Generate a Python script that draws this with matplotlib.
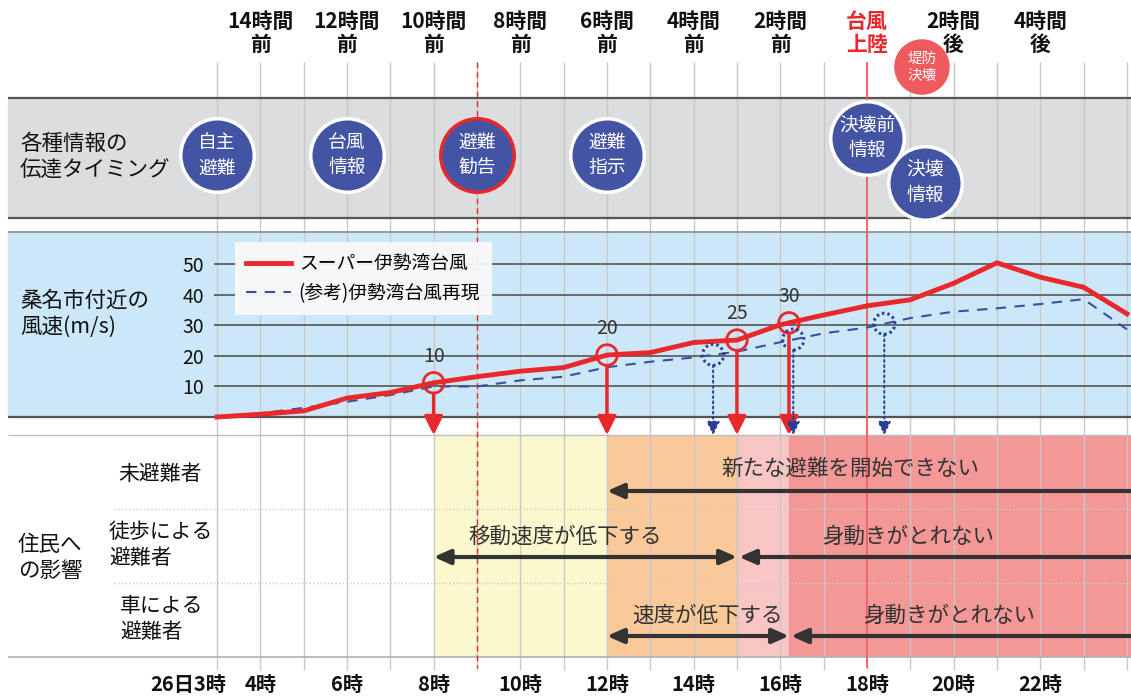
import numpy as np
import matplotlib
matplotlib.use("Agg")
import matplotlib.pyplot as plt

plt.rcParams['font.family'] = ['Noto Sans CJK JP', 'DejaVu Sans']

# wind speed near Kuwana (m/s), hourly from 3:00 to 24:00
hours = list(range(3, 25))
wind_super = [0, 0.9, 2, 6.2, 8, 11.2, 13.2, 15, 16.2, 20.3, 21.1, 24.4, 25.2, 30.2,
              33.4, 36.4, 38.4, 43.8, 50.5, 45.8, 42.5, 33.8]
wind_ref = [0, 1.2, 3, 5, 7.2, 10, 10, 12, 13.2, 16.3, 18.1, 19.5, 21.4, 24.5,
            27.4, 29.3, 32.4, 34.5, 35.6, 37, 38.6, 28.7]
series_names = ['スーパー伊勢湾台風', '(参考)伊勢湾台風再現']

# threshold crossings (hours) marked by circles
super_marks = [8, 12, 15, 16.2]
super_mark_labels = ['10', '20', '25', '30']
ref_marks = [14.45, 16.3, 18.4]

# information timing
info_labels = ['自主\n避難', '台風\n情報', '避難\n勧告', '避難\n指示', '決壊前\n情報', '決壊\n情報']
info_hours = [3, 6, 9, 12, 18, 19.35]
breach_label = '堤防\n決壊'
breach_hour = 19.27

top_labels = ['14時間\n前', '12時間\n前', '10時間\n前', '8時間\n前', '6時間\n前',
              '4時間\n前', '2時間\n前', '台風\n上陸', '2時間\n後', '4時間\n後']
top_hours = [4, 6, 8, 10, 12, 14, 16, 18, 20, 22]
bottom_hours = [4, 6, 8, 10, 12, 14, 16, 18, 20, 22]
advisory_hour = 9
landfall_hour = 18

# impact zones
zone_edges = [8, 12, 15, 16.2]
zone_colors = ['#faf8cc', '#f9c99a', '#f9c6c6', '#f39797']

row_labels = ['未避難者', '徒歩による\n避難者', '車による\n避難者']

# ---- layout helpers (pixels of the 1131x698 picture) ----
W, H = 1131, 698


def h_at(px):
    return 3 + (px - 217) / 43.33


fig = plt.figure(figsize=(W / 100, H / 100), dpi=100)
ax = fig.add_axes([0, 0, 1, 1])
ax.set_xlim(h_at(0), h_at(W))
ax.set_ylim(H, 0)
ax.axis('off')
x_left = h_at(8)
x_right = h_at(W) + 0.5
zone_edges_full = zone_edges + [x_right]

# panel backgrounds
ax.fill_between([x_left, x_right], 98, 218, color='#dcdddf', zorder=0)
ax.fill_between([x_left, x_right], 232, 417, color='#cce8f8', zorder=0)
for i in range(len(zone_colors)):
    ax.fill_between([zone_edges_full[i], zone_edges_full[i + 1]], 435, 657,
                    color=zone_colors[i], zorder=0, lw=0)

# vertical hour grid
ax.vlines(hours, 62, 670, color='#c8c8c8', lw=1, zorder=1)

# panel borders
ax.hlines([98, 218], x_left, x_right, color='#555555', lw=1.6, zorder=2)
ax.hlines(232, x_left, x_right, color='#8a8a8a', lw=1.2, zorder=2)
ax.hlines(417, x_left, x_right, color='#555555', lw=1.6, zorder=2)
ax.hlines(435, x_left, x_right, color='#bdbdbd', lw=1, zorder=2)
ax.hlines(657, x_left, x_right, color='#b0b0b0', lw=1.2, zorder=2)
ax.hlines([509, 583], h_at(114), x_right, color='#cccccc', lw=1, linestyles=':', zorder=2)

# advisory / landfall lines
ax.vlines(advisory_hour, 62, 668, color='#e8282b', lw=1, linestyles=(0, (4, 3)), zorder=3)
ax.vlines(landfall_hour, 62, 668, color='#f06060', lw=1.3, zorder=3)

# top labels
for h, lab in zip(top_hours, top_labels):
    col = '#e8282b' if '上陸' in lab else '#111111'
    ax.text(h, 33, lab, ha='center', va='center', fontsize=15, fontweight='bold',
            color=col, linespacing=1.1)

# breach circle
ax.scatter([breach_hour], [67], s=1600, c='#ef5a5f', edgecolors='none', zorder=6)
ax.text(breach_hour, 67, breach_label, ha='center', va='center', fontsize=10.5,
        color='white', linespacing=1.25, zorder=7)

# info timing circles
info_y = [155, 155, 155, 155, 138, 183]
for h, y, lab in zip(info_hours, info_y, info_labels):
    edge = '#e8282b' if lab == '避難\n勧告' else 'white'
    ax.scatter([h], [y], s=2800, c='#4454a4', edgecolors=edge, linewidths=2.5, zorder=6)
    ax.text(h, y, lab, ha='center', va='center', fontsize=13.5, color='white',
            linespacing=1.3, zorder=7)

# left labels
ax.text(h_at(20), 157, '各種情報の\n伝達タイミング', ha='left', va='center', fontsize=15.5,
        color='#111111', linespacing=1.25)
ax.text(h_at(20), 314, '桑名市付近の\n風速(m/s)', ha='left', va='center', fontsize=15.5,
        color='#111111', linespacing=1.25)
ax.text(h_at(18), 558, '住民へ\nの影響', ha='left', va='center', fontsize=15.5,
        color='#111111', linespacing=1.25)
ax.text(h_at(160), 474, row_labels[0], ha='center', va='center', fontsize=15, color='#111111')
ax.text(h_at(109), 545, row_labels[1], ha='left', va='center', fontsize=15, color='#111111',
        linespacing=1.25)
ax.text(h_at(120), 619, row_labels[2], ha='left', va='center', fontsize=15, color='#111111',
        linespacing=1.25)

# bottom hour labels
ax.text(3.2, 684, '26日3時', ha='right', va='center', fontsize=14.5, fontweight='bold',
        color='#111111')
for h in bottom_hours:
    ax.text(h, 684, f'{h}時', ha='center', va='center', fontsize=14.5, fontweight='bold',
            color='#111111')

# impact arrows
arrow_kw = dict(color='#333333', lw=3, mutation_scale=11, shrinkA=0, shrinkB=0)
impacts = [
    (491, zone_edges[1], x_right, '-|>', '新たな避難を開始できない', 17.61, 469),
    (557, zone_edges[0], zone_edges[2], '<|-|>', '移動速度が低下する', 11.03, 537),
    (557, zone_edges[2] + 0.05, x_right, '-|>', '身動きがとれない', 18.95, 537),
    (636, zone_edges[1], zone_edges[3], '<|-|>', '速度が低下する', 14.33, 616),
    (636, zone_edges[3] + 0.05, x_right, '-|>', '身動きがとれない', 19.9, 616),
]
for y, x0, x1, style, txt, tx, ty in impacts:
    ax.annotate('', xy=(x0, y), xytext=(x1, y),
                arrowprops=dict(arrowstyle=style + ',head_length=0.9,head_width=0.4', **arrow_kw),
                zorder=4)
    ax.text(tx, ty, txt, ha='center', va='center', fontsize=15.5, color='#333333', zorder=4)

# ---- wind speed chart ----
wmax = 60.6
axw = fig.add_axes([214 / W, (H - 417) / H, (W - 214) / W, (417 - 232) / H])
axw.set_xlim(h_at(214), h_at(W))
axw.set_ylim(0, wmax)
axw.patch.set_alpha(0)
for s in axw.spines.values():
    s.set_visible(False)
axw.set_xticks([])
axw.set_yticks([10, 20, 30, 40, 50])
axw.tick_params(axis='y', length=0, pad=7, labelsize=14, labelcolor='#111111')
axw.grid(axis='y', color='#555555', lw=1.2)
axw.set_axisbelow(True)

axw.plot(hours, wind_super, color='#e8282b', lw=3.5, label=series_names[0], zorder=4,
         clip_on=False, solid_joinstyle='miter')
axw.plot(hours, wind_ref, color='#3a4fa0', lw=1.5, ls=(0, (5, 4)), label=series_names[1],
         zorder=3)

leg = axw.legend(loc='upper left', bbox_to_anchor=(235 / W, 1 - 242 / H),
                 bbox_transform=fig.transFigure, borderaxespad=0, fontsize=13.5,
                 frameon=True, fancybox=False, framealpha=0.95, facecolor='#f8f8f8',
                 edgecolor='none', handlelength=2.4, handletextpad=0.4,
                 borderpad=0.6, labelspacing=0.45)

super_vals = np.interp(super_marks, hours, wind_super)
ref_vals = np.interp(ref_marks, hours, wind_ref)

axw.scatter(super_marks, super_vals, s=220, facecolors='none', edgecolors='#e8282b',
            linewidths=2, zorder=6, clip_on=False)
axw.scatter(ref_marks, ref_vals, s=230, facecolors='none', edgecolors='#2a3d96',
            linewidths=2.2, linestyles=(0, (0.8, 1.0)), zorder=6, clip_on=False)

for h, v, lab in zip(super_marks, super_vals, super_mark_labels):
    axw.annotate(lab, xy=(h, v), xytext=(0, 19), textcoords='offset points',
                 ha='center', va='center', fontsize=14, color='#333333')
    axw.annotate('', xy=(h, 435), xycoords=ax.transData, xytext=(h, v), textcoords='data',
                 arrowprops=dict(arrowstyle='-|>,head_length=0.8,head_width=0.4',
                                 color='#e8282b', lw=2.5, mutation_scale=14,
                                 shrinkA=7.5, shrinkB=0),
                 annotation_clip=False, zorder=6)

for h, v in zip(ref_marks, ref_vals):
    axw.annotate('', xy=(h, 435), xycoords=ax.transData, xytext=(h, v), textcoords='data',
                 arrowprops=dict(arrowstyle='-|>,head_length=0.8,head_width=0.4',
                                 color='#2a3d96', lw=1.4, ls=':', mutation_scale=10,
                                 shrinkA=7.5, shrinkB=0),
                 annotation_clip=False, zorder=6)

fig.savefig('out.png', dpi=100)
